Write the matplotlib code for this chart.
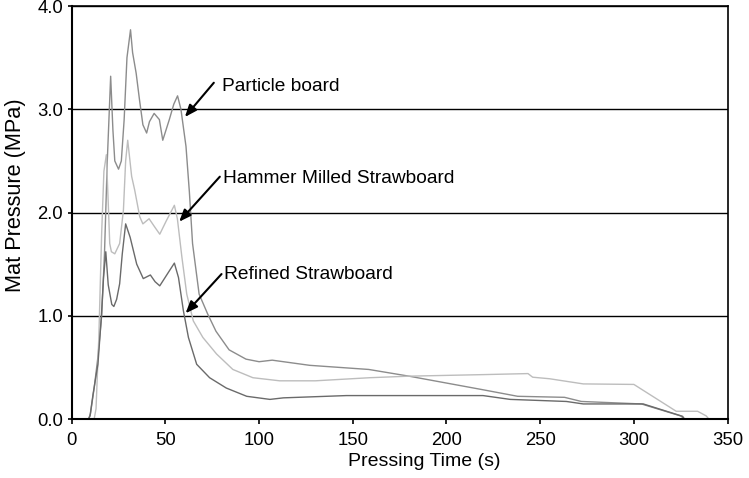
import matplotlib
matplotlib.use("Agg")
import matplotlib.pyplot as plt
from matplotlib.ticker import FormatStrFormatter

plt.rcParams['font.family'] = ['Liberation Sans', 'DejaVu Sans']

# Particle board
pb_t = [0, 9, 10, 12, 14, 16, 17.5, 19, 20.8, 22, 23, 25, 26.5, 28, 29.5, 31.4, 32.5,
        34.4, 36.2, 38, 40, 41.5, 44, 46.8, 48.6, 50, 52.1, 54.5, 56.5, 58.3, 61, 62.8,
        64.5, 68, 72.5, 77, 84, 93, 100, 107, 127, 158.5, 180, 219, 238, 263, 272, 304,
        325, 327, 350]
pb_p = [0, 0, 0.05, 0.3, 0.6, 1.0, 1.6, 2.5, 3.32, 2.8, 2.5, 2.42, 2.5, 2.9, 3.5, 3.77, 3.55,
        3.35, 3.09, 2.85, 2.77, 2.88, 2.96, 2.90, 2.70, 2.78, 2.90, 3.05, 3.13, 3.0, 2.64, 2.2,
        1.70, 1.21, 1.02, 0.85, 0.67, 0.58, 0.555, 0.57, 0.52, 0.48, 0.415, 0.285, 0.22, 0.21,
        0.17, 0.146, 0.03, 0, 0]

# Hammer milled strawboard
hm_t = [0, 12, 13, 14.5, 16, 17.2, 18.5, 19.5, 20.3, 21.2, 23, 25.6, 27.6, 28.8, 29.9, 32,
        33.6, 36.3, 38, 41.3, 44.3, 47, 50.5, 54.8, 56.4, 58.8, 61.4, 64.9, 70, 77.3, 86,
        96.7, 111, 130, 159, 180, 219.5, 243.5, 246, 255, 273, 300, 322.6, 334, 338.6, 340, 350]
hm_p = [0, 0, 0.1, 0.8, 1.8, 2.4, 2.56, 2.1, 1.7, 1.62, 1.6, 1.70, 2.02, 2.5, 2.70, 2.35,
        2.22, 1.96, 1.89, 1.94, 1.86, 1.79, 1.92, 2.07, 1.94, 1.57, 1.21, 0.95, 0.79, 0.63, 0.48,
        0.40, 0.37, 0.37, 0.40, 0.415, 0.43, 0.44, 0.405, 0.39, 0.34, 0.335, 0.075, 0.075, 0.03, 0, 0]

# Refined strawboard
rf_t = [0, 9, 9.8, 11.4, 14, 15.8, 17, 18.2, 19.5, 21.4, 22.5, 24, 25.6, 27, 28.8, 31.2,
        34.7, 38.2, 42, 44.5, 47, 52.3, 54.8, 57, 59.6, 62.3, 66.7, 73.6, 82.5, 93.4, 105.8,
        113, 146.6, 219.5, 234, 264, 273, 305, 326, 327, 350]
rf_p = [0, 0, 0.03, 0.24, 0.53, 0.98, 1.37, 1.62, 1.3, 1.11, 1.09, 1.16, 1.31, 1.6, 1.89, 1.76,
        1.50, 1.36, 1.395, 1.33, 1.29, 1.44, 1.51, 1.37, 1.05, 0.79, 0.53, 0.40, 0.30, 0.22, 0.19,
        0.205, 0.227, 0.227, 0.19, 0.17, 0.146, 0.146, 0.026, 0, 0]

# labels: text, text position (left, baseline), arrow tail, arrow head
labels = ['Particle board', 'Hammer Milled Strawboard', 'Refined Strawboard']
label_pos = [(80.0, 3.177), (80.5, 2.289), (81.3, 1.356)]
arrow_tail = [(75.85, 3.257), (79.05, 2.347), (79.96, 1.404)]
arrow_head = [(60.4, 2.925), (57.36, 1.911), (60.77, 1.024)]

fig = plt.figure(figsize=(7.49, 4.78), dpi=100)
ax = fig.add_axes([0.0957, 0.1234, 0.8757, 0.8640])

ax.plot(pb_t, pb_p, color='#8c8c8c', linewidth=1.0)
ax.plot(hm_t, hm_p, color='#bdbdbd', linewidth=1.0)
ax.plot(rf_t, rf_p, color='#6a6a6a', linewidth=1.0)

ax.set_xlim(0, 350)
ax.set_ylim(0, 4)
ax.set_xticks(range(0, 351, 50))
ax.set_yticks([0, 1, 2, 3, 4])
ax.yaxis.set_major_formatter(FormatStrFormatter('%.1f'))
ax.tick_params(axis='x', direction='out', length=3.6, width=1.2, labelsize=13.3, pad=5.5)
ax.tick_params(axis='y', direction='out', length=2.6, width=1.2, labelsize=13.3, pad=3.5)

ax.yaxis.grid(True, color='black', linewidth=1.0)
ax.set_axisbelow(True)
for s in ['left', 'bottom']:
    ax.spines[s].set_linewidth(1.5)
for s in ['top', 'right']:
    ax.spines[s].set_linewidth(1.2)

ax.set_xlabel('Pressing Time (s)', fontsize=14)
ax.set_ylabel('Mat Pressure (MPa)', fontsize=15.7)
ax.xaxis.set_label_coords(0.537, -0.082)
ax.yaxis.set_label_coords(-0.0697, 0.542)

arrow = dict(arrowstyle='-|>,head_length=0.55,head_width=0.22', color='black',
             lw=1.5, mutation_scale=13, shrinkA=0, shrinkB=0)
for txt, pos, tail, head in zip(labels, label_pos, arrow_tail, arrow_head):
    ax.text(pos[0], pos[1], txt, fontsize=13.8, ha='left', va='baseline')
    ax.annotate('', xy=head, xytext=tail, arrowprops=arrow)

fig.savefig('out.png', dpi=100)
